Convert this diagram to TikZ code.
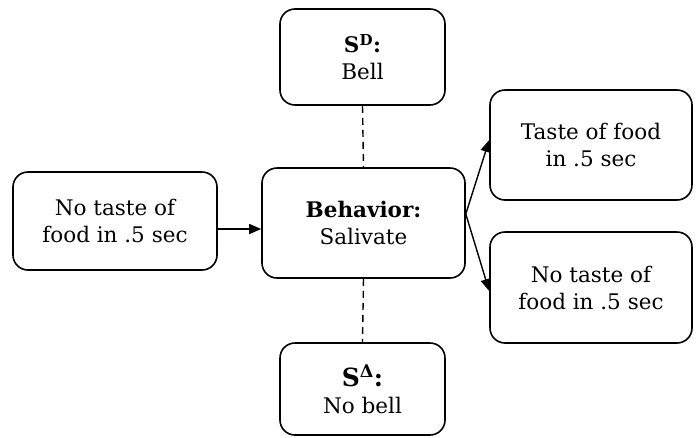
\documentclass[tikz,border=0pt]{standalone}
\usepackage{fontspec}
\setmainfont{DejaVu Serif}
\usetikzlibrary{arrows.meta}
\begin{document}
\begin{tikzpicture}[x=1pt,y=-1pt,
  box/.style={draw,line width=1.6pt,rounded corners=15pt,align=center,inner sep=0pt,
    font=\fontsize{21.5}{27}\selectfont},
  conn/.style={line width=1.4pt,-{Triangle[length=12pt,width=10pt]}},
  dashline/.style={line width=1.4pt,dash pattern=on 7pt off 5pt}]
\useasboundingbox (0,0) rectangle (699,437);
\node[box,minimum width=165pt,minimum height=96pt] (sd) at (362.5,57) {\textbf{S\textsuperscript{D}:}\\Bell};
\node[box,minimum width=203pt,minimum height=110pt] (beh) at (363.5,223) {\textbf{Behavior:}\\Salivate};
\node[box,minimum width=165pt,minimum height=92pt] (sdelta) at (362.5,389) {\textbf{\fontsize{25}{27}\selectfont S\textsuperscript{Δ}:}\\No bell};
\node[box,minimum width=204pt,minimum height=98pt] (left) at (115,221) {No taste of\\food in .5 sec};
\node[box,minimum width=202pt,minimum height=110pt] (rt) at (591,145) {Taste of food\\in .5 sec};
\node[box,minimum width=202pt,minimum height=111pt] (rb) at (591,287.5) {No taste of\\food in .5 sec};
\coordinate (apex) at (beh.east |- 0,214);
\draw[conn] (left.east |- 0,229) -- (beh.west |- 0,229);
\draw[conn] (apex) -- (rt.west |- 0,140);
\draw[conn] (apex) -- (rb.west |- 0,291);
\draw[dashline] (sd.south) -- (beh.north);
\draw[dashline] (beh.south) -- (sdelta.north);
\end{tikzpicture}
\end{document}
